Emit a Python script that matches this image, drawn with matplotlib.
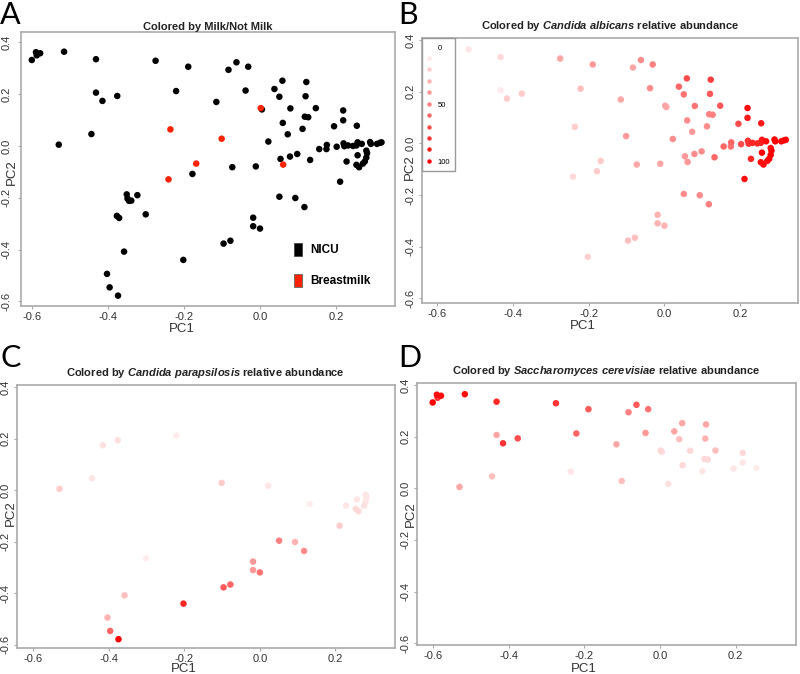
import numpy as np
import matplotlib
matplotlib.use("Agg")
from matplotlib import pyplot as plt
from matplotlib.lines import Line2D
from matplotlib.patches import Patch

# PCA coordinates of the samples (same samples in every panel)
pc1 = [-0.601, -0.590, -0.588, -0.579, -0.516, -0.432, -0.432, -0.415, -0.376, -0.444,
       -0.530, -0.275, -0.189, -0.221, -0.115, -0.083, -0.062, -0.031, -0.038, 0.002,
       0.005, 0.038, 0.059, 0.051, 0.122, 0.120, 0.080, 0.147, 0.118, 0.127,
       0.060, 0.112, 0.073, 0.022, 0.219, 0.219, 0.195, 0.255, -0.236, -0.101,
       -0.168, -0.241, 0.061, -0.178, -0.073, -0.011, 0.054, 0.079, 0.098, 0.132,
       0.156, 0.175, 0.176, 0.202, 0.220, 0.222, 0.232, 0.245, 0.254, 0.257,
       0.268, 0.290, 0.292, 0.308, 0.316, 0.320, 0.257, 0.280, 0.282, 0.280,
       0.276, 0.271, 0.228, 0.254, 0.261, 0.211, 0.051, 0.093, 0.117, -0.018,
       -0.018, 0.000, -0.078, -0.096, -0.202, -0.358, -0.301, -0.323, -0.351, -0.349,
       -0.345, -0.339, -0.377, -0.371, -0.403, -0.396, -0.374]
pc2 = [0.332, 0.362, 0.350, 0.358, 0.364, 0.335, 0.206, 0.174, 0.193, 0.046,
       0.005, 0.329, 0.306, 0.212, 0.170, 0.294, 0.323, 0.306, 0.214, 0.146,
       0.141, 0.220, 0.252, 0.190, 0.247, 0.192, 0.145, 0.146, 0.113, 0.111,
       0.089, 0.066, 0.045, 0.017, 0.137, 0.099, 0.076, 0.078, 0.064, 0.028,
       -0.068, -0.129, -0.072, -0.108, -0.082, -0.079, -0.050, -0.041, -0.031, -0.054,
       -0.012, -0.012, 0.004, -0.003, 0.010, -0.001, 0.002, 0.000, 0.002, 0.014,
       0.008, 0.015, 0.008, 0.008, 0.012, 0.014, -0.036, -0.018, -0.028, -0.045,
       -0.060, -0.068, -0.060, -0.073, -0.082, -0.138, -0.196, -0.201, -0.236, -0.277,
       -0.310, -0.319, -0.366, -0.377, -0.440, -0.408, -0.264, -0.190, -0.187, -0.203,
       -0.212, -0.211, -0.270, -0.278, -0.494, -0.546, -0.578]

# 1 = breastmilk, 0 = NICU
milk = [0] * 19 + [1] + [0] * 18 + [1, 1, 1, 1, 1] + [0] * 54

# relative abundance (%)
albicans = [5, 5, 5, 5, 10, 15, 8, 20, 20, 0,
            0, 35, 40, 25, 35, 35, 45, 50, 45, 35,
            35, 60, 70, 55, 75, 65, 55, 65, 50, 50,
            45, 45, 40, 45, 95, 90, 70, 90, 20, 40,
            20, 15, 40, 20, 35, 35, 40, 45, 45, 60,
            60, 55, 60, 70, 80, 80, 85, 85, 85, 90,
            95, 100, 100, 100, 100, 95, 100, 95, 100, 100,
            100, 95, 85, 95, 95, 95, 45, 45, 50, 30,
            30, 30, 25, 25, 18, 0, 0, 0, 0, 0,
            0, 0, 0, 0, 0, 0, 0]
parapsilosis = [0, 0, 0, 0, 0, 0, 0, 12, 12, 10,
                20, 0, 0, 7, 0, 0, 0, 0, 0, 0,
                0, 0, 0, 0, 0, 0, 0, 0, 0, 0,
                0, 0, 0, 10, 0, 0, 0, 0, 0, 20,
                0, 0, 0, 0, 0, 0, 0, 0, 0, 7,
                0, 0, 0, 0, 0, 0, 0, 0, 0, 0,
                0, 0, 0, 0, 0, 0, 10, 10, 10, 10,
                12, 0, 10, 15, 15, 20, 50, 30, 45, 40,
                40, 55, 60, 65, 85, 25, 7, 0, 0, 0,
                0, 0, 0, 0, 30, 60, 100]
cerevisiae = [100, 95, 80, 95, 95, 85, 35, 80, 70, 25,
              35, 80, 65, 60, 35, 50, 65, 55, 40, 15,
              15, 35, 35, 25, 35, 30, 15, 25, 15, 15,
              15, 10, 0, 12, 15, 10, 10, 8, 10, 25] + [0] * 57

legend_levels = [0, 10, 20, 30, 40, 50, 60, 70, 80, 90, 100]
legend_labels = ["0", "", "", "", "", "50", "", "", "", "", "100"]
xticks = [-0.6, -0.4, -0.2, 0.0, 0.2]
yticks = [-0.6, -0.4, -0.2, 0.0, 0.2, 0.4]

plt.rcParams['font.family'] = ['Liberation Sans', 'DejaVu Sans']
plt.rcParams['mathtext.fontset'] = 'custom'
plt.rcParams['mathtext.rm'] = 'Liberation Sans:bold'
plt.rcParams['mathtext.it'] = 'Liberation Sans:italic:bold'

EDGE = '#aaaaaa'
MILK_RED = '#ff2200'


def white_to_red(values):
    a = np.clip(np.asarray(values, dtype=float) / 100.0, 0, 1)
    return np.column_stack([np.ones_like(a), 1 - a, 1 - a])


def style_axes(ax, xlim, ylim, title, title_pad, xlab, ylab, ypad=2):
    ax.set_xlim(xlim)
    ax.set_ylim(ylim)
    ax.set_xticks(xticks)
    ax.set_yticks(yticks)
    ax.set_xticklabels([f"{t:.1f}" for t in xticks])
    ax.set_yticklabels([f"{t:.1f}" for t in yticks], rotation=90, va='center')
    for s in ax.spines.values():
        s.set_color(EDGE)
        s.set_linewidth(1.2)
    ax.tick_params(length=2.5, width=0.8, color=EDGE, labelsize=8,
                   labelcolor='#333333')
    ax.tick_params(axis='x', pad=1.5)
    ax.tick_params(axis='y', pad=ypad)
    ax.set_title(title, fontsize=8, fontweight='bold', color='#222222', pad=title_pad)
    ax.set_xlabel('PC1', fontsize=9.5, color='#333333')
    ax.set_ylabel('PC2', fontsize=9.5, color='#333333')
    ax.xaxis.set_label_coords(*xlab)
    ax.yaxis.set_label_coords(*ylab)
    ax.xaxis.label.set_verticalalignment('center')
    ax.yaxis.label.set_verticalalignment('center')


def abundance_panel(ax, values):
    order = np.argsort(values, kind='stable')
    x = np.asarray(pc1)[order]
    y = np.asarray(pc2)[order]
    ax.scatter(x, y, s=22, c=white_to_red(np.asarray(values)[order]),
               edgecolors='none')


fig = plt.figure(figsize=(8, 6.74), dpi=100)

# A: milk vs NICU
axA = fig.add_axes([0.026, 0.546, 0.4675, 0.4065])
is_milk = np.asarray(milk) == 1
axA.scatter(np.asarray(pc1)[~is_milk], np.asarray(pc2)[~is_milk], s=22,
            c='black', edgecolors='none')
axA.scatter(np.asarray(pc1)[is_milk], np.asarray(pc2)[is_milk], s=22,
            c=MILK_RED, edgecolors='none')
style_axes(axA, (-0.63, 0.355), (-0.618, 0.44), 'Colored by Milk/Not Milk', 0.5,
           (0.43, -0.085), (-0.025, 0.489), ypad=4)
axA.legend([Patch(facecolor='black', edgecolor='#444444', linewidth=0.6),
            Patch(facecolor=MILK_RED, edgecolor='#666666', linewidth=0.6)],
           ['NICU', 'Breastmilk'], loc='upper left', bbox_to_anchor=(0.73, 0.23),
           frameon=False, borderaxespad=0, borderpad=0,
           prop={'weight': 'bold', 'size': 8.5},
           handlelength=0.68, handleheight=1.27, labelspacing=1.5, handletextpad=0.68)

# B: Candida albicans
axB = fig.add_axes([0.5275, 0.5504, 0.47, 0.393])
abundance_panel(axB, albicans)
style_axes(axB, (-0.639, 0.352), (-0.619, 0.408),
           r'Colored by $\it{Candida\ albicans}$ relative abundance', 6.5,
           (0.428, -0.088), (-0.032, 0.513))
handles = [Line2D([], [], marker='o', linestyle='none', markersize=3.2,
                  markerfacecolor=c, markeredgecolor='none')
           for c in white_to_red(legend_levels)]
leg = axB.legend(handles, legend_labels, loc='upper left', bbox_to_anchor=(0, 1),
                 borderaxespad=0, fontsize=5.5, frameon=True, fancybox=False,
                 edgecolor='#999999', framealpha=1, borderpad=0.65,
                 handlelength=0.6, handleheight=1.44, labelspacing=0.31,
                 handletextpad=0.77)
leg.get_frame().set_linewidth(1.0)

# C: Candida parapsilosis
axC = fig.add_axes([0.021, 0.0386, 0.4725, 0.390])
abundance_panel(axC, parapsilosis)
style_axes(axC, (-0.643, 0.357), (-0.612, 0.407),
           r'Colored by $\it{Candida\ parapsilosis}$ relative abundance', 6.5,
           (0.442, -0.08), (-0.016, 0.513))

# D: Saccharomyces cerevisiae
axD = fig.add_axes([0.521, 0.043, 0.474, 0.389])
abundance_panel(axD, cerevisiae)
style_axes(axD, (-0.643, 0.36), (-0.607, 0.408),
           r'Colored by $\it{Saccharomyces\ cerevisiae}$ relative abundance', 6.5,
           (0.44, -0.09), (-0.016, 0.5))

# panel letters
for letter, x, y in [('A', 0.0, 1 - 1 / 674), ('B', 0.4975, 1 - 1 / 674),
                     ('C', 0.0, 1 - 344 / 674), ('D', 0.4975, 1 - 344 / 674)]:
    fig.text(x, y, letter, fontsize=22, family=['Lato', 'DejaVu Sans'],
             fontweight='normal', color='black', ha='left', va='top')

fig.savefig('out.png', dpi=100)
